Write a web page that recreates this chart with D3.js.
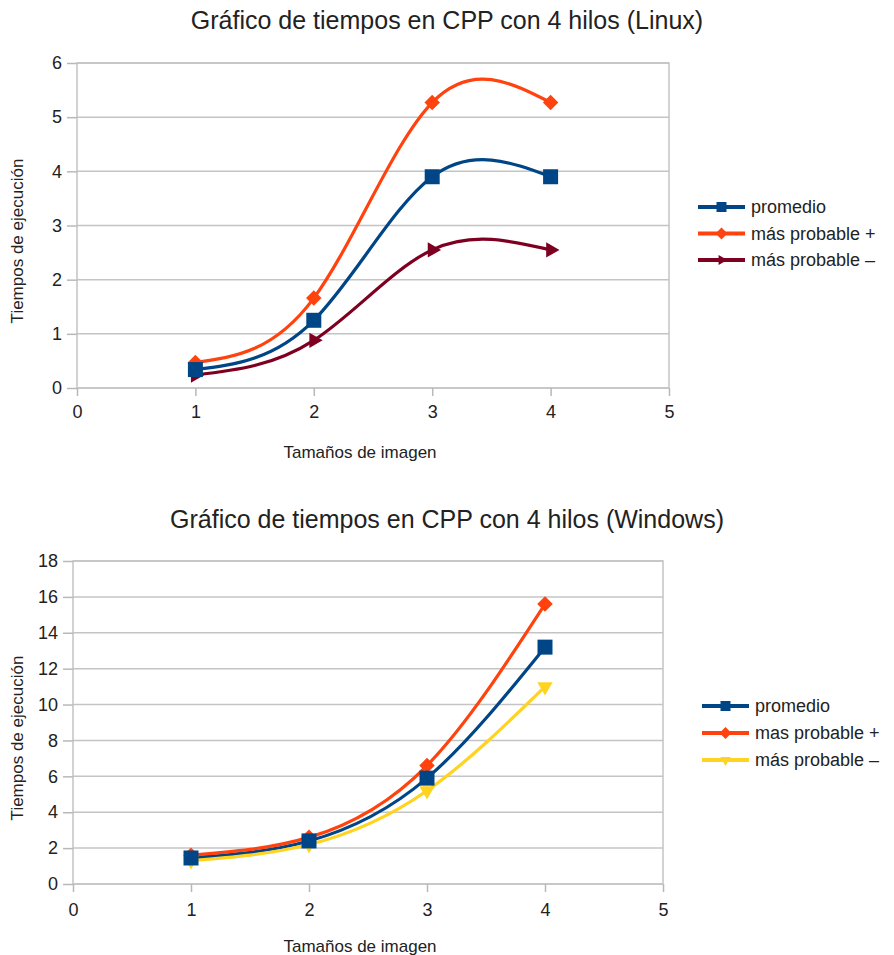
<!doctype html>
<html lang="es">
<head>
<meta charset="UTF-8">
<script src="https://cdn.jsdelivr.net/npm/d3@7"></script>
<style>
  body { margin: 0; background: #fff; }
  svg { font-family: "Liberation Sans", Arial, Helvetica, sans-serif; }
  .title { font-size: 25px; fill: #222; }
  .axis text { font-size: 18px; fill: #222; font-family: "Liberation Sans", Arial, sans-serif; }
  .axis path { display: none; }
  .axis line { stroke: #b8b8b8; stroke-width: 1.5; }
  .grid line { stroke: #c4c4c4; stroke-width: 1.5; }
  .frame { fill: none; stroke: #c4c4c4; stroke-width: 1.5; }
  .axtitle { font-size: 17px; fill: #222; }
  .legend text { font-size: 18px; fill: #222; }
</style>
</head>
<body>
<svg id="chart" width="894" height="955"></svg>
<script>
// data
const sizes = [1, 2, 3, 4];
const xTicks = [0, 1, 2, 3, 4, 5];

const linuxPromedio = [0.34, 1.25, 3.9, 3.9];
const linuxMasPlus = [0.47, 1.66, 5.27, 5.27];
const linuxMasMinus = [0.24, 0.88, 2.55, 2.55];
const linuxYTicks = [0, 1, 2, 3, 4, 5, 6];
const linuxNames = ["promedio", "más probable +", "más probable –"];

const winPromedio = [1.45, 2.4, 5.9, 13.2];
const winMasPlus = [1.6, 2.6, 6.6, 15.6];
const winMasMinus = [1.3, 2.2, 5.2, 11.0];
const winYTicks = [0, 2, 4, 6, 8, 10, 12, 14, 16, 18];
const winNames = ["promedio", "mas probable +", "más probable –"];

const svg = d3.select("#chart");

// marker shapes
const sqr = d3.symbol().type(d3.symbolSquare);
const dia = d3.symbol().type(d3.symbolDiamond2);
const tri = d3.symbol().type(d3.symbolTriangle2);

function marker(g, kind, color, size) {
  let p;
  if (kind == "square") {
    p = g.append("path").attr("d", sqr.size(size * size)());
  } else if (kind == "diamond") {
    p = g.append("path").attr("d", dia.size(size * size * 0.9)());
  } else if (kind == "right") {
    p = g.append("path").attr("d", tri.size(size * size * 0.75)()).attr("transform", "rotate(90)");
  } else { // down
    p = g.append("path").attr("d", tri.size(size * size * 0.75)()).attr("transform", "rotate(180)");
  }
  p.attr("fill", color);
}

function drawChart(o) {
  let g = svg.append("g");
  let x = d3.scaleLinear().domain([0, 5]).range([o.left, o.right]);
  let y = d3.scaleLinear().domain([0, o.yMax]).range([o.bottom, o.top]);

  g.append("text").attr("class", "title")
    .attr("x", 447).attr("y", o.titleY)
    .attr("text-anchor", "middle").text(o.title);

  // horizontal grid
  g.append("g").attr("class", "grid")
    .selectAll("line").data(o.yTicks).enter().append("line")
    .attr("x1", o.left).attr("x2", o.right)
    .attr("y1", d => y(d)).attr("y2", d => y(d));

  g.append("rect").attr("class", "frame")
    .attr("x", o.left).attr("y", o.top)
    .attr("width", o.right - o.left).attr("height", o.bottom - o.top);

  g.append("g").attr("class", "axis")
    .attr("transform", "translate(" + o.left + ",0)")
    .call(d3.axisLeft(y).tickValues(o.yTicks).tickFormat(d3.format("d")).tickSize(10).tickPadding(5));

  g.append("g").attr("class", "axis")
    .attr("transform", "translate(0," + o.bottom + ")")
    .call(d3.axisBottom(x).tickValues(xTicks).tickFormat(d3.format("d")).tickSize(8).tickPadding(o.xPad));

  g.append("text").attr("class", "axtitle")
    .attr("transform", "translate(" + 23 + "," + o.yTitleY + ") rotate(-90)")
    .attr("text-anchor", "middle").text("Tiempos de ejecución");

  g.append("text").attr("class", "axtitle")
    .attr("x", 360).attr("y", o.xTitleY)
    .attr("text-anchor", "middle").text("Tamaños de imagen");

  let line = d3.line()
    .x((d, i) => x(sizes[i]))
    .y(d => y(d))
    .curve(d3.curveNatural);

  o.series.forEach(function(s) {
    g.append("path")
      .attr("d", line(s.values))
      .attr("fill", "none")
      .attr("stroke", s.color)
      .attr("stroke-width", 3.2);
  });
  // markers, first series drawn last so it sits on top
  o.series.slice().reverse().forEach(function(s) {
    s.values.forEach(function(v, i) {
      let m = g.append("g").attr("transform", "translate(" + x(sizes[i]) + "," + y(v) + ")");
      marker(m, s.shape, s.color, s.size);
    });
  });

  // legend
  let leg = g.append("g").attr("class", "legend");
  o.series.forEach(function(s, i) {
    let ly = o.legY + i * o.legStep;
    leg.append("line")
      .attr("x1", o.legX).attr("x2", o.legX + 47)
      .attr("y1", ly).attr("y2", ly)
      .attr("stroke", s.color).attr("stroke-width", 4);
    let m = leg.append("g").attr("transform", "translate(" + (o.legX + 23.5) + "," + ly + ")");
    marker(m, s.shape, s.color, 10);
    leg.append("text")
      .attr("x", o.legX + 53).attr("y", ly)
      .attr("dy", "0.35em").text(s.name);
  });
}

drawChart({
  title: "Gráfico de tiempos en CPP con 4 hilos (Linux)",
  titleY: 29,
  left: 77, right: 669, top: 63, bottom: 388,
  yMax: 6, yTicks: linuxYTicks, xPad: 9,
  yTitleY: 241, xTitleY: 458,
  legX: 698, legY: 207, legStep: 26.5,
  series: [
    {name: linuxNames[0], values: linuxPromedio, color: "#004586", shape: "square", size: 15},
    {name: linuxNames[1], values: linuxMasPlus, color: "#ff420e", shape: "diamond", size: 13},
    {name: linuxNames[2], values: linuxMasMinus, color: "#7e0021", shape: "right", size: 15}
  ]
});

drawChart({
  title: "Gráfico de tiempos en CPP con 4 hilos (Windows)",
  titleY: 528,
  left: 73, right: 663, top: 561, bottom: 884,
  yMax: 18, yTicks: winYTicks, xPad: 11,
  yTitleY: 738, xTitleY: 952,
  legX: 702, legY: 706, legStep: 27,
  series: [
    {name: winNames[0], values: winPromedio, color: "#004586", shape: "square", size: 15},
    {name: winNames[1], values: winMasPlus, color: "#ff420e", shape: "diamond", size: 13},
    {name: winNames[2], values: winMasMinus, color: "#ffd320", shape: "down", size: 15}
  ]
});
</script>
</body>
</html>
